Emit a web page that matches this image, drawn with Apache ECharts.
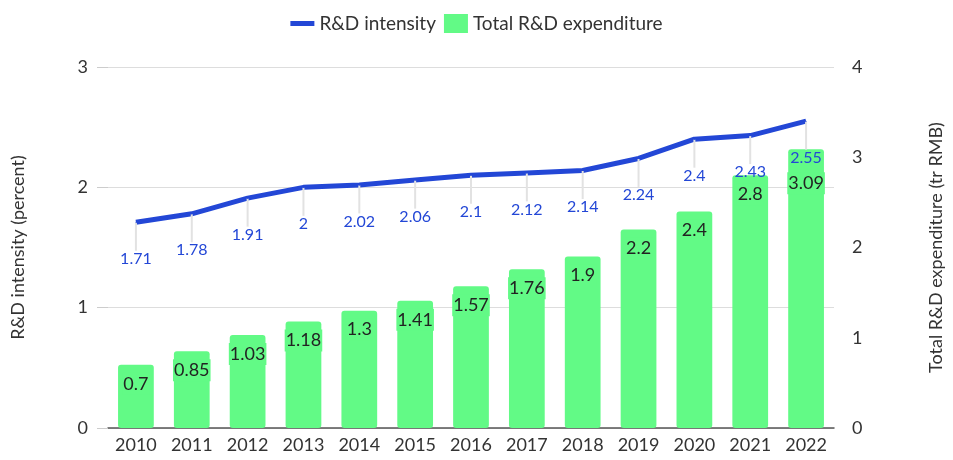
<!DOCTYPE html>
<html>
<head>
<meta charset="utf-8">
<script src="https://cdn.jsdelivr.net/npm/echarts@6/dist/echarts.min.js"></script>
<style>
  html, body { margin: 0; padding: 0; background: #fff; }
  #chart { width: 953px; height: 460px; }
</style>
</head>
<body>
<div id="chart"></div>
<script>
// data
const years = ['2010', '2011', '2012', '2013', '2014', '2015', '2016', '2017', '2018', '2019', '2020', '2021', '2022'];
const intensity = [1.71, 1.78, 1.91, 2, 2.02, 2.06, 2.1, 2.12, 2.14, 2.24, 2.4, 2.43, 2.55];
const expenditure = [0.7, 0.85, 1.03, 1.18, 1.3, 1.41, 1.57, 1.76, 1.9, 2.2, 2.4, 2.8, 3.09];
const leftTicks = [0, 1, 2, 3];
const rightTicks = [0, 1, 2, 3, 4];

const font = 'Lato, "Noto Sans", sans-serif';
const blue = '#2347d6';
const green = '#62fa86';

let myChart = echarts.init(document.getElementById('chart'));

myChart.setOption({
    animation: false,
    textStyle: { fontFamily: font },
    legend: {
        top: 9,
        left: 'center',
        itemGap: 8,
        itemWidth: 24,
        itemHeight: 19,
        textStyle: { fontSize: 19, color: '#333', fontFamily: font },
        data: [
            { name: 'R&D intensity', icon: 'path://M0,7 L24,7 L24,12 L0,12 Z', itemStyle: { color: blue } },
            { name: 'Total R&D expenditure', icon: 'rect', itemStyle: { color: green } }
        ]
    },
    grid: { left: 108, right: 98, top: 67, bottom: 32 },
    xAxis: {
        type: 'category',
        data: years,
        axisTick: { show: false },
        axisLine: { lineStyle: { color: '#555', width: 1.5 } },
        axisLabel: { fontSize: 18, color: '#333', margin: 8 }
    },
    yAxis: [
        {
            type: 'value',
            min: leftTicks[0],
            max: leftTicks[leftTicks.length - 1],
            interval: 1,
            name: 'R&D intensity (percent)',
            nameLocation: 'middle',
            nameGap: 81,
            nameTextStyle: { fontSize: 18, color: '#333' },
            axisLine: { show: false },
            axisTick: { show: true, length: 11, lineStyle: { color: '#ccc' } },
            axisLabel: { fontSize: 18, color: '#333', margin: 20 },
            splitLine: { lineStyle: { color: '#ddd' } }
        },
        {
            type: 'value',
            min: rightTicks[0],
            max: rightTicks[rightTicks.length - 1],
            interval: 1,
            name: 'Total R&D expenditure (tr RMB)',
            nameLocation: 'middle',
            nameGap: 93,
            nameRotate: 90,
            nameTextStyle: { fontSize: 18, color: '#333' },
            axisLine: { show: false },
            axisTick: { show: false },
            axisLabel: { fontSize: 18, color: '#333', margin: 18 },
            splitLine: { show: false }
        }
    ],
    series: [
        {
            name: 'Total R&D expenditure',
            type: 'bar',
            yAxisIndex: 1,
            barWidth: '64%',
            data: expenditure,
            z: 2,
            itemStyle: { color: green, borderRadius: 3 },
            label: {
                show: true,
                position: 'insideTop',
                distance: 8,
                fontSize: 18,
                color: '#222',
                backgroundColor: green,
                padding: [2, 1]
            },
            // last bar label is pushed down under the line label
            labelLayout: function (p) {
                return p.dataIndex === years.length - 1 ? { dy: 15 } : {};
            }
        },
        {
            name: 'R&D intensity',
            type: 'line',
            yAxisIndex: 0,
            data: intensity,
            z: 3,
            symbol: 'circle',
            symbolSize: 1,
            showSymbol: true,
            lineStyle: { color: blue, width: 5 },
            itemStyle: { color: blue },
            label: {
                show: true,
                position: 'bottom',
                distance: 4,
                fontSize: 16,
                color: blue
            },
            labelLayout: { dy: 24 },
            labelLine: { show: true, length2: 0, lineStyle: { color: '#e2e2e2', width: 2 } }
        }
    ]
});
</script>
</body>
</html>
